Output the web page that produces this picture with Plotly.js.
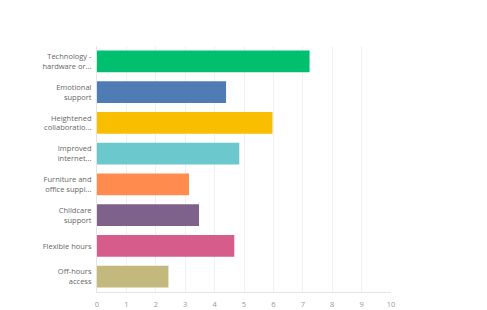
<!DOCTYPE html>
<html>
<head>
<meta charset="utf-8">
<script src="https://cdn.plot.ly/plotly-3.0.1.min.js"></script>
<style>html,body{margin:0;padding:0;background:#fff;}#chart{width:487px;height:310px;}</style>
</head>
<body>
<div id="chart"></div>
<script>
const categories = [
  "Technology -<br>hardware or...",
  "Emotional<br>support",
  "Heightened<br>collaboratio...",
  "Improved<br>internet...",
  "Furniture and<br>office suppl...",
  "Childcare<br>support",
  "Flexible hours",
  "Off-hours<br>access"
];
const values = [7.23, 4.39, 5.97, 4.84, 3.13, 3.47, 4.67, 2.43];
const colors = ["#00BF6F", "#507CB6", "#F9BE00", "#6BC8CD", "#FF8B4F", "#7F628B", "#D65C8C", "#C4B97D"];
const xTicks = [0,1,2,3,4,5,6,7,8,9,10];

Plotly.newPlot("chart", [{
  type: "bar",
  orientation: "h",
  y: categories,
  x: values,
  marker: {color: colors},
  hoverinfo: "none"
}], {
  width: 487, height: 310,
  margin: {l: 97, r: 96, t: 46, b: 18, pad: 0},
  paper_bgcolor: "#fff", plot_bgcolor: "#fff",
  bargap: 0.29,
  showlegend: false,
  font: {family: "Open Sans, sans-serif", color: "#666"},
  xaxis: {
    range: [0, 10], tickvals: xTicks, ticktext: xTicks.map(String),
    showgrid: true, gridcolor: "#f0f0f0", gridwidth: 1,
    zeroline: false, showline: true, linecolor: "#e4e4e4",
    tickfont: {size: 7.5, color: "#999"}, ticks: "outside", ticklen: 5, tickcolor: "rgba(0,0,0,0)"
  },
  yaxis: {
    autorange: "reversed", showgrid: false, zeroline: false,
    showline: true, linecolor: "#e4e4e4",
    tickfont: {size: 7.5, color: "#666"}, ticks: "outside", ticklen: 3, tickcolor: "rgba(0,0,0,0)"
  }
}, {displayModeBar: false, staticPlot: true});
</script>
</body>
</html>
